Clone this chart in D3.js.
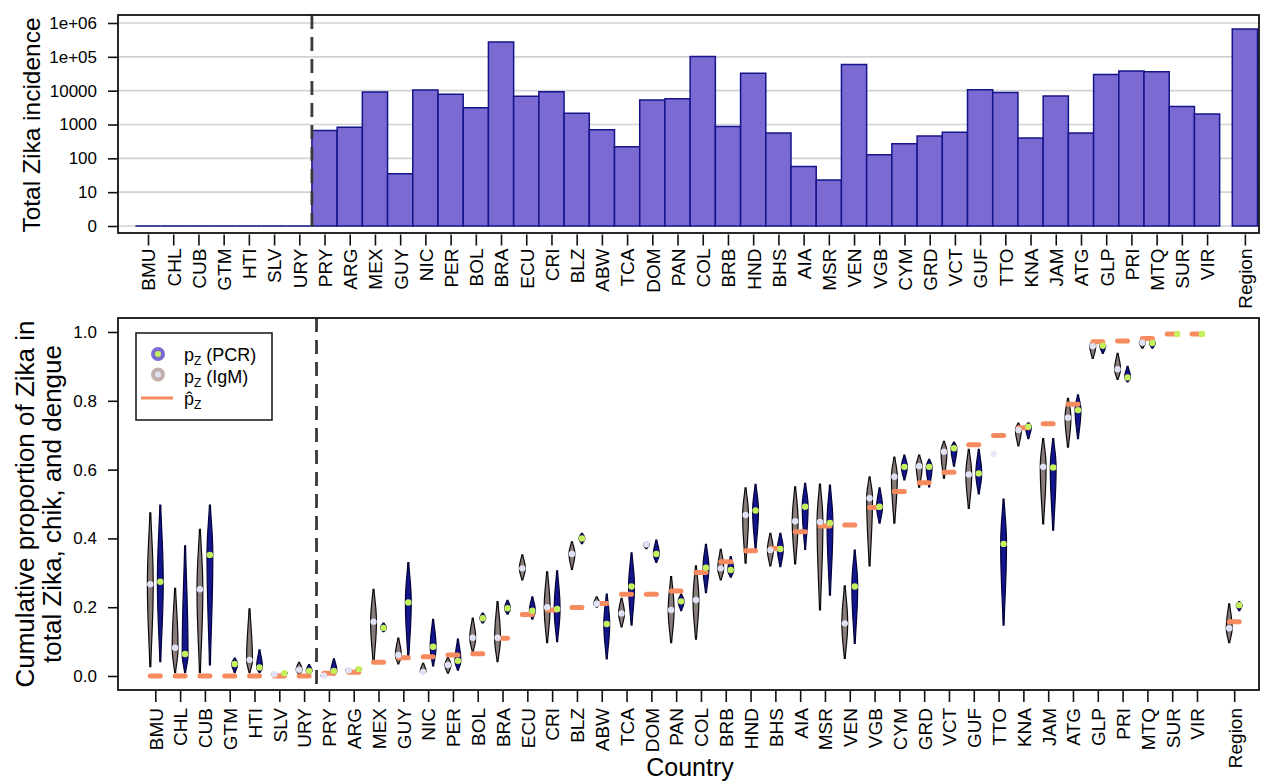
<!DOCTYPE html>
<html><head><meta charset="utf-8">
<script src="https://cdn.jsdelivr.net/npm/d3@7"></script>
<style>
body{margin:0;background:#fff}
svg{display:block}
text{font-family:"Liberation Sans",Arial,Helvetica,sans-serif;fill:#000}
</style>
</head><body><svg id="c" width="1269" height="784"></svg>
<script>
// ---------------- DATA ----------------
const countries = ["BMU","CHL","CUB","GTM","HTI","SLV","URY","PRY","ARG","MEX","GUY","NIC","PER","BOL","BRA","ECU","CRI","BLZ","ABW","TCA","DOM","PAN","COL","BRB","HND","BHS","AIA","MSR","VEN","VGB","CYM","GRD","VCT","GUF","TTO","KNA","JAM","ATG","GLP","PRI","MTQ","SUR","VIR","Region"];
const incidence = [0,0,0,0,0,0,0,660,830,9100,35,10400,7800,3150,275000,6800,9300,2140,705,220,5300,5800,103000,870,32500,560,57,23,59000,128,270,460,590,10700,8900,400,6950,560,30300,38000,36500,3380,2040,665000];
const incidenceTicks = [1,10,100,1000,10000,1e5,1e6];
const incidenceTickLabels = ["0","10","100","1000","10000","1e+05","1e+06"];
const propTicks = [0,0.2,0.4,0.6,0.8,1.0];
const propTickLabels = ["0.0","0.2","0.4","0.6","0.8","1.0"];

const pHat = [0,0,0,0,0,0,0,0.008,0.011,0.04,0.053,0.056,0.061,0.065,0.11,0.179,0.192,0.199,0.211,0.238,0.238,0.247,0.301,0.332,0.364,0.371,0.419,0.436,0.439,0.49,0.536,0.562,0.592,0.672,0.699,0.722,0.733,0.79,0.972,0.974,0.981,0.994,0.994,0.158];

const igmLo  = [0.027,0.01,0.01,null,0.01,0.0,0.005,0.0,0.012,0.037,0.035,0.008,0.008,0.07,0.042,0.279,0.097,0.31,0.2,0.143,0.37,0.097,0.107,0.279,0.328,0.32,0.326,0.192,0.051,0.32,0.444,0.549,0.575,0.487,0.645,0.669,0.442,0.665,0.923,0.862,0.953,null,null,0.097];
const igmMed = [0.267,0.082,0.252,null,0.047,0.005,0.018,0.001,0.017,0.158,0.061,0.012,0.032,0.111,0.111,0.313,0.2,0.355,0.21,0.182,0.383,0.192,0.221,0.313,0.468,0.366,0.45,0.448,0.153,0.517,0.579,0.61,0.652,0.586,0.645,0.715,0.608,0.751,0.959,0.892,0.969,null,null,0.139];
const igmHi  = [0.474,0.255,0.426,null,0.195,0.01,0.04,0.005,0.022,0.252,0.11,0.037,0.054,0.168,0.216,0.352,0.303,0.39,0.23,0.226,0.39,0.289,0.32,0.368,0.547,0.415,0.55,0.558,0.262,0.579,0.636,0.642,0.682,0.659,0.645,0.735,0.69,0.807,0.972,0.938,0.982,null,null,0.21];

const pcrLo  = [0.042,0.01,0.032,0.01,0.01,0.004,0.005,0.003,0.016,0.129,0.051,0.029,0.017,0.154,0.18,0.165,0.1,0.385,0.05,0.148,0.33,0.19,0.242,0.287,0.368,0.318,0.368,0.235,0.095,0.444,0.57,0.55,0.61,0.529,0.148,0.69,0.424,0.69,0.938,0.855,0.953,0.994,0.994,0.19];
const pcrMed = [0.274,0.064,0.352,0.035,0.025,0.008,0.015,0.015,0.02,0.14,0.214,0.085,0.044,0.168,0.197,0.19,0.195,0.40,0.151,0.26,0.355,0.217,0.315,0.308,0.481,0.369,0.492,0.445,0.26,0.492,0.608,0.608,0.662,0.589,0.384,0.725,0.606,0.773,0.96,0.868,0.968,0.994,0.994,0.206];
const pcrHi  = [0.497,0.378,0.497,0.052,0.076,0.012,0.033,0.05,0.024,0.154,0.33,0.165,0.107,0.183,0.22,0.23,0.306,0.415,0.238,0.358,0.395,0.238,0.383,0.347,0.557,0.415,0.56,0.555,0.366,0.547,0.642,0.63,0.68,0.659,0.514,0.736,0.69,0.817,0.969,0.9,0.98,0.994,0.994,0.216];

// ---------------- LAYOUT ----------------
const svg = d3.select("#c");
const L = 118, R = 1259;
const topBox = {t:15, b:233};
const botBox = {t:318, b:690};
const posOf = i => (i < countries.length - 1 ? i : i + 0.5);
const positions = countries.map((d,i)=>posOf(i));
const nameAt = new Map(positions.map((p,i)=>[p,countries[i]]));

const xTop = d3.scaleLinear().domain([-1.19, 44.06]).range([L, R]);
const xBot = d3.scaleLinear().domain([-1.504, 44.50]).range([L, R]);
const yTop = d3.scaleLog().domain([1, 1e6]).range([226, 23]);
const yBot = d3.scaleLinear().domain([0, 1]).range([676, 332]);

const barFill = "#7b6ad2", barStroke = "#16148a";
const orange = "#f68b60";

// ---------------- TOP PANEL ----------------
const gTop = svg.append("g");
gTop.selectAll("line.grid").data(incidenceTicks).enter().append("line")
  .attr("x1", L).attr("x2", R).attr("y1", d=>yTop(d)).attr("y2", d=>yTop(d))
  .attr("stroke", "#d2d2d2").attr("stroke-width", 1.6);
gTop.selectAll("path.bar").data(incidence).enter().append("path")
  .attr("d", (v,i)=>{
    const p = posOf(i);
    const x0 = xTop(p-0.5), x1 = xTop(p+0.5);
    const y0 = yTop(1), y1 = yTop(Math.max(v,1));
    return `M${x0},${y0}V${y1}H${x1}V${y0}Z`;
  })
  .attr("fill", barFill).attr("stroke", barStroke).attr("stroke-width", 1.5);
gTop.append("line").attr("x1", xTop(6.5)).attr("x2", xTop(6.5))
  .attr("y1", topBox.t).attr("y2", topBox.b)
  .attr("stroke", "#3a3a3a").attr("stroke-width", 2.8).attr("stroke-dasharray", "14,8");
gTop.append("rect").attr("x", L).attr("y", topBox.t).attr("width", R-L).attr("height", topBox.b-topBox.t)
  .attr("fill","none").attr("stroke","#111").attr("stroke-width",1.8);
const ayTop = gTop.append("g").attr("transform", `translate(${L},0)`)
  .call(d3.axisLeft(yTop).tickValues(incidenceTicks).tickFormat((d,i)=>incidenceTickLabels[i]).tickSize(10).tickPadding(11));
ayTop.select(".domain").remove();
ayTop.selectAll("line").attr("stroke","#111").attr("stroke-width",1.6);
ayTop.selectAll("text").style("font-size","17px").attr("fill","#000");
const axTop = gTop.append("g").attr("transform", `translate(0,${topBox.b+1.5})`)
  .call(d3.axisBottom(xTop).tickValues(positions).tickFormat(p=>nameAt.get(p)).tickSize(11));
axTop.select(".domain").remove();
axTop.selectAll("line").attr("stroke","#111").attr("stroke-width",1.6);
axTop.selectAll("text").attr("transform","rotate(-90)").attr("x",-14).attr("y",0).attr("dy","0.36em")
  .style("text-anchor","end").style("font-size","19px").attr("fill","#000");
svg.append("text").attr("transform","translate(40,125) rotate(-90)").attr("text-anchor","middle")
  .style("font-size","24.5px").text("Total Zika incidence");

// ---------------- BOTTOM PANEL ----------------
const gBot = svg.append("g");
gBot.append("line").attr("x1", xBot(6.5)).attr("x2", xBot(6.5))
  .attr("y1", botBox.t).attr("y2", botBox.b)
  .attr("stroke", "#3a3a3a").attr("stroke-width", 2.8).attr("stroke-dasharray", "14,8");

function violin(cx, lo, med, hi, W){
  const n = 40, pts = [];
  for (let k=0;k<=n;k++){
    const p = lo + (hi-lo)*k/n;
    let u;
    if (p <= med) u = med>lo ? (p-lo)/(med-lo) : 1;
    else u = hi>med ? (hi-p)/(hi-med) : 1;
    pts.push({p, w: 0.5 + (W-0.5)*Math.pow(Math.sin(Math.max(0,Math.min(1,u))*Math.PI/2),1.3)});
  }
  return d3.area().y(d=>yBot(d.p)).x0(d=>cx-d.w).x1(d=>cx+d.w).curve(d3.curveMonotoneY)(pts);
}
const off = 5;
countries.forEach((c,i)=>{
  const p = posOf(i);
  if (igmLo[i]!=null && igmHi[i]-igmLo[i] > 0.004){
    gBot.append("path").attr("d", violin(xBot(p)-off, igmLo[i], igmMed[i], igmHi[i], 2.9))
      .attr("fill","#8a7c7a").attr("stroke","#0a0a0a").attr("stroke-width",1.2);
  }
  if (pcrLo[i]!=null && pcrHi[i]-pcrLo[i] > 0.004){
    gBot.append("path").attr("d", violin(xBot(p)+off, pcrLo[i], pcrMed[i], pcrHi[i], 2.9))
      .attr("fill","#14148c").attr("stroke","#020238").attr("stroke-width",1.2);
  }
});
gBot.selectAll("line.phat").data(pHat).enter().append("line")
  .attr("x1",(d,i)=>xBot(posOf(i))-5).attr("x2",(d,i)=>xBot(posOf(i))+5)
  .attr("y1",d=>yBot(d)).attr("y2",d=>yBot(d))
  .attr("stroke",orange).attr("stroke-width",5).attr("stroke-linecap","round");
countries.forEach((c,i)=>{
  const p = posOf(i);
  if (igmMed[i]!=null){
    gBot.append("circle").attr("cx",xBot(p)-off).attr("cy",yBot(igmMed[i])).attr("r",3.2)
      .attr("fill","#e2e2f6").attr("opacity", c==="TTO"?0.8:1);
  }
  if (pcrMed[i]!=null){
    gBot.append("circle").attr("cx",xBot(p)+off).attr("cy",yBot(pcrMed[i])).attr("r",3.2).attr("fill","#c4f25c");
  }
});
gBot.append("rect").attr("x", L).attr("y", botBox.t).attr("width", R-L).attr("height", botBox.b-botBox.t)
  .attr("fill","none").attr("stroke","#111").attr("stroke-width",1.8);
const ayBot = gBot.append("g").attr("transform", `translate(${L},0)`)
  .call(d3.axisLeft(yBot).tickValues(propTicks).tickFormat((d,i)=>propTickLabels[i]).tickSize(10).tickPadding(11));
ayBot.select(".domain").remove();
ayBot.selectAll("line").attr("stroke","#111").attr("stroke-width",1.6);
ayBot.selectAll("text").style("font-size","17px").attr("fill","#000");
const axBot = gBot.append("g").attr("transform", `translate(0,${botBox.b+1})`)
  .call(d3.axisBottom(xBot).tickValues(positions).tickFormat(p=>nameAt.get(p)).tickSize(11));
axBot.select(".domain").remove();
axBot.selectAll("line").attr("stroke","#111").attr("stroke-width",1.6);
axBot.selectAll("text").attr("transform","rotate(-90)").attr("x",-17).attr("y",0).attr("dy","0.36em")
  .style("text-anchor","end").style("font-size","19px").attr("fill","#000");
svg.append("text").attr("transform","translate(34,504) rotate(-90)").attr("text-anchor","middle")
  .style("font-size","26px").text("Cumulative proportion of Zika in");
svg.append("text").attr("transform","translate(61,504) rotate(-90)").attr("text-anchor","middle")
  .style("font-size","26px").text("total Zika, chik, and dengue");
svg.append("text").attr("x",690).attr("y",776).attr("text-anchor","middle")
  .style("font-size","25px").text("Country");

// legend
const lg = svg.append("g");
lg.append("rect").attr("x",136).attr("y",333).attr("width",136).attr("height",87)
  .attr("fill","#fff").attr("stroke","#111").attr("stroke-width",1.5);
lg.append("circle").attr("cx",158).attr("cy",354).attr("r",7).attr("fill","#7b6ad2");
lg.append("circle").attr("cx",158).attr("cy",354).attr("r",3).attr("fill","#c4f25c");
lg.append("circle").attr("cx",158).attr("cy",374.5).attr("r",7).attr("fill","#c3b1ae");
lg.append("circle").attr("cx",158).attr("cy",374.5).attr("r",3).attr("fill","#e2e2f6");
lg.append("line").attr("x1",141).attr("x2",173).attr("y1",398).attr("y2",398).attr("stroke",orange).attr("stroke-width",3);
function legText(y, base, rest){
  const t = lg.append("text").attr("x",184).attr("y",y).style("font-size","18px");
  t.append("tspan").text(base);
  t.append("tspan").attr("dy",4).style("font-size","12px").text("Z");
  if (rest) t.append("tspan").attr("dy",-4).text(" " + rest);
  return t;
}
legText(361,"p","(PCR)");
legText(383,"p","(IgM)");
legText(405,"p\u0302",null);
</script>
</body></html>
